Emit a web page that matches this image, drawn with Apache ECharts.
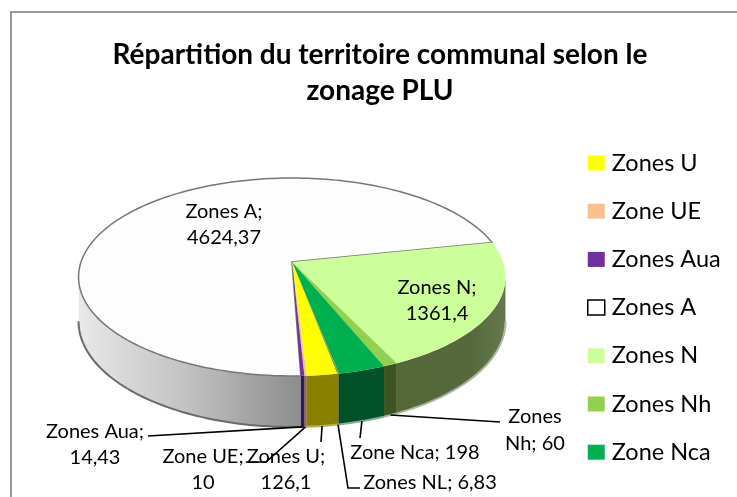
<!DOCTYPE html>
<html><head><meta charset="utf-8">
<style>html,body{margin:0;padding:0;background:#fff}#c{width:737px;height:497px}</style>
<script src="https://cdn.jsdelivr.net/npm/echarts@6/dist/echarts.min.js"></script>
</head><body><div id="c"></div>
<script>
const zoneNames = ['Zones U','Zone UE','Zones Aua','Zones A','Zones N','Zones Nh','Zone Nca','Zones NL'];
const zoneValues = [126.1,10,14.43,4624.37,1361.4,60,198,6.83];
const legendNames = ['Zones U','Zone UE','Zones Aua','Zones A','Zones N','Zones Nh','Zone Nca'];
const topColors = ['#ffff00','#fac090','#7030a0','#fdfdfd','#ccff99','#92d050','#00b050','#8a9a40'];
const sideColors = ['#8a8000','#8a6a30','#2f1a55','#a8a8a8','#56683e','#3f5420','#005028','#5a5a20'];
const edgeColors = ['#b8b060','#b8b060','#2f1a55','#6a6a6a','#a9b89a','#a9b89a','#7fb09a','#b8b060'];
const titleText = 'Répartition du territoire communal selon le\nzonage PLU';

// projection of the pie disc (layout)
const G = {ax:292, ay:262, A:211, B:96.7, k:0.1515, h:43.3, first:169.5, sideFrom:98.7, sideTo:261.3};
const total = zoneValues.reduce((a,b)=>a+b,0);
const bounds = []; let acc = G.first;
zoneValues.forEach(v=>{ const d=v/total*360; bounds.push([acc,acc+d]); acc+=d; });
// front of the disc is at 180deg: screen y grows with -cos
function pt(deg, drop){
  const t=deg*Math.PI/180, X=Math.sin(t), Y=-Math.cos(t), W=1-G.k*Y;
  return [G.ax+G.A*X/W, G.ay+G.B*Y/W+(drop?G.h/W:0)];
}
function arc(a,b,drop){ const n=Math.max(2,Math.ceil(Math.abs(b-a)/1.5)), r=[];
  for(let i=0;i<=n;i++) r.push(pt(a+(b-a)*i/n,drop)); return r; }

const fr = v => String(v).replace('.',',');
const val = n => fr(zoneValues[zoneNames.indexOf(n)]);
const labelFont = 'Lato, Carlito, sans-serif';
const labelLayout = [
 {n:'Zones A', sep:'\n', x:224, y:225},
 {n:'Zones N', sep:'\n', x:437, y:301},
 {n:'Zones Aua', sep:'\n', x:95, y:445},
 {n:'Zone UE', sep:'\n', x:203, y:470},
 {n:'Zones U', sep:'\n', x:286, y:470},
 {n:'Zone Nca', sep:' ', x:415, y:453},
 {n:'Zones NL', sep:' ', x:430, y:483}
];
const leaderEnds = {
 'Zones Aua':[[148,436]], 'Zone UE':[[266,462],[246,462]], 'Zones U':[[321,442]],
 'Zone Nca':[[360,438]], 'Zones NL':[[348,488],[360,488]], 'Zones Nh':[[500,422]]
};

function renderSlice(i){
  let [a,b]=bounds[i];
  const top=[[G.ax,G.ay]].concat(arc(a,b,false));
  const children=[];
  if(a>=360){a-=360;b-=360;}
  const sa=Math.max(a,G.sideFrom), sb=Math.min(b,G.sideTo);
  if(sb>sa){
    const up=arc(sa,sb,false), dn=arc(sa,sb,true);
    let fill=sideColors[i];
    if(zoneNames[i]==='Zones A') fill=new echarts.graphic.LinearGradient(80,0,302,0,[{offset:0,color:'#e8e8e8'},{offset:.5,color:'#c0c0c0'},{offset:1,color:'#8c8c8c'}],true);
    if(zoneNames[i]==='Zones N') fill=new echarts.graphic.LinearGradient(394,0,505,0,[{offset:0,color:'#546838'},{offset:.7,color:'#56683e'},{offset:1,color:'#66784e'}],true);
    children.push({type:'polygon',shape:{points:up.concat(dn.slice().reverse())},style:{fill:fill,stroke:null}});
    children.push({type:'polyline',shape:{points:dn},style:{fill:null,stroke:edgeColors[i],lineWidth:2}});
  }
  const isA=zoneNames[i]==='Zones A';
  children.push({type:'polygon',shape:{points:top},style:{fill:topColors[i],stroke:isA?'#777777':null,lineWidth:isA?1.5:0}});
  return {type:'group',children:children};
}

function renderAnnot(){
  const kids=[];
  Object.keys(leaderEnds).forEach(n=>{
    const i=zoneNames.indexOf(n), m=(bounds[i][0]+bounds[i][1])/2;
    const s=pt(m>=360?m-360:m,true);
    kids.push({type:'polyline',shape:{points:[s].concat(leaderEnds[n])},style:{fill:null,stroke:'#000',lineWidth:1.6}});
  });
  const tx=(x,y,text,lh)=>({type:'text',style:{x:x,y:y,text:text,align:'center',verticalAlign:'middle',textAlign:'center',textVerticalAlign:'middle',font:'20px '+labelFont,lineHeight:lh,fill:'#000'}});
  labelLayout.forEach(l=>kids.push(tx(l.x,l.y,l.n+';'+l.sep+val(l.n),26)));
  kids.push(tx(535,430,'Zones\nNh; '+val('Zones Nh'),27));
  return {type:'group',children:kids};
}

const order=[3,4,5,6,7,0,1,2];
const series=order.map(i=>({type:'custom',name:zoneNames[i],coordinateSystem:'none',silent:true,
  itemStyle:{color:topColors[i]},data:[[zoneValues[i]]],renderItem:()=>renderSlice(i),animation:false}));
series.push({type:'custom',name:'annot',coordinateSystem:'none',silent:true,z:5,data:[[0]],renderItem:renderAnnot,animation:false});

const chart=echarts.init(document.getElementById('c'),null,{renderer:'canvas'});
chart.setOption({
  animation:false, backgroundColor:'#fff',
  title:{text:titleText,left:375,top:32,textAlign:'center',textStyle:{fontFamily:labelFont,fontSize:28,fontWeight:'bold',color:'#000',lineHeight:36}},
  legend:{orient:'vertical',left:582,top:146,itemWidth:17,itemHeight:15,itemGap:24.2,selectedMode:false,
    textStyle:{fontFamily:labelFont,fontSize:23.5,color:'#000',lineHeight:24,padding:[0,0,0,2]},
    data:legendNames.map(n=>{const i=zoneNames.indexOf(n);
      return {name:n,icon:'rect',itemStyle:n==='Zones A'?{color:'#fff',borderColor:'#000',borderWidth:1.5}:{color:topColors[i],borderWidth:0}};})},
  graphic:[{type:'polyline',silent:true,shape:{points:[[11,497],[11,12],[737,12]]},style:{fill:null,stroke:'#9a9a9a',lineWidth:2}}],
  series:series
});
</script></body></html>
